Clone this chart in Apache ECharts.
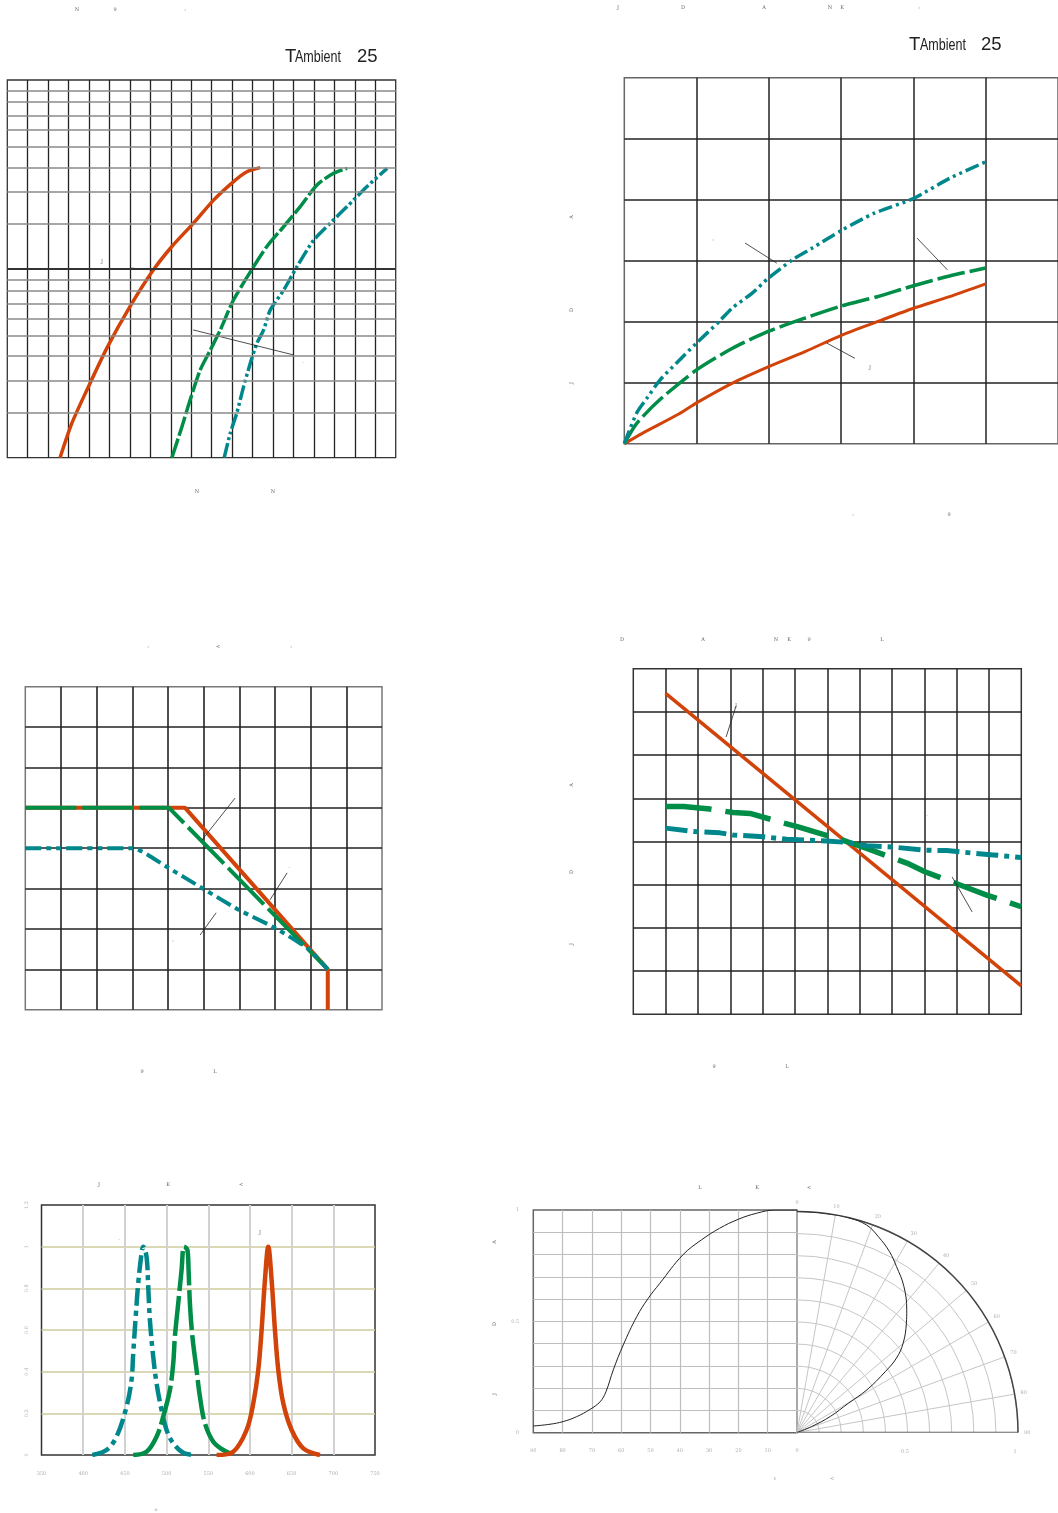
<!DOCTYPE html>
<html>
<head>
<meta charset="utf-8">
<title>LED characteristics</title>
<script src="https://cdn.jsdelivr.net/npm/echarts@6/dist/echarts.min.js"></script>
<style>
  html, body { margin: 0; padding: 0; background: #fff; }
  #main { width: 1058px; height: 1513px; }
</style>
</head>
<body>
<div id="main"></div>
<script>
// ---------- values ----------
// 1) current (log scale) vs voltage
var ivRed   = [[2.58,1],[3.15,1.36],[3.89,1.84],[4.87,2.69],[6.0,3.91],[7.15,5.45],[8.05,6.73],[9.11,8.31],[10.09,10.23],[11.07,12.09],[11.72,13.21],[12.37,13.71]];
var ivGreen = [[8.05,1],[8.54,1.32],[8.95,1.69],[9.44,2.21],[9.93,2.64],[10.42,3.17],[11.07,4.16],[12.05,5.61],[12.70,6.73],[13.52,8.06],[14.33,9.65],[15.15,11.73],[15.96,13.03],[16.62,13.62]];
var ivTeal  = [[10.61,1],[10.91,1.25],[11.23,1.5],[11.56,1.9],[11.89,2.35],[12.21,2.81],[12.54,3.17],[12.86,3.79],[13.52,4.54],[14.17,5.61],[14.99,7.13],[15.80,8.31],[16.62,9.65],[17.60,11.57],[18.58,13.62]];
var ivMinor = [1.5,2,2.5,3,3.5,4,4.5,5,8.25,11,13.75,16.5,19.25,22,24.75,27.5];
var ivMajor = [5.5];
var ivLeaders = [[[9.09,3.17],[13.99,2.53]], [[6.01,5.54],[7.09,5.45]]];

// 2) intensity vs current
var liRed   = [[0,0],[0.25,0.17],[0.76,0.49],[1,0.67],[1.49,0.99],[1.99,1.26],[2.5,1.51],[3.01,1.78],[3.5,2.0],[4,2.22],[4.5,2.41],[5,2.62]];
var liGreen = [[0,0],[0.17,0.33],[0.49,0.72],[1,1.21],[1.49,1.56],[1.99,1.84],[2.5,2.06],[3.01,2.26],[3.5,2.41],[4,2.59],[4.5,2.75],[5,2.88]];
var liTeal  = [[0,0],[0.17,0.5],[0.31,0.74],[0.49,1.04],[0.72,1.32],[1,1.65],[1.31,2.0],[1.49,2.22],[1.77,2.47],[1.99,2.71],[2.32,3.01],[2.59,3.2],[3.01,3.5],[3.46,3.78],[4,4.02],[4.5,4.35],[5,4.62]];
var liLeaders = [[[1.67,3.29],[2.11,2.96]], [[4.05,3.37],[4.47,2.85]], [[2.80,1.65],[3.19,1.40]]];

// 3) derating: max current vs ambient temperature
var drRed   = [[0,5],[4.48,5],[8.48,1],[8.48,0]];
var drGreen = [[0,5],[4.03,5],[8.48,1]];
var drTeal  = [[0,4],[3.01,4],[3.96,3.54],[4.98,3.0],[5.99,2.47],[7.01,2.02],[7.97,1.48],[8.48,1]];
var drLeaders = [[[5.88,5.24],[4.95,4.20]], [[7.34,3.39],[6.86,2.72]], [[5.35,2.40],[4.90,1.85]]];

// 4) relative intensity vs temperature
var tcRed   = [[1,7.43],[12,0.66]];
var tcGreen = [[1,4.81],[1.55,4.81],[2.37,4.75],[3.09,4.67],[3.61,4.65],[4.59,4.44],[5.10,4.34],[6.60,4.0],[7.22,3.84],[8.46,3.5],[9.02,3.3],[10.47,2.89],[10.93,2.76],[12,2.49]];
var tcTeal  = [[1,4.31],[1.86,4.23],[2.68,4.2],[3.09,4.15],[4.02,4.11],[4.74,4.05],[5.98,4.01],[6.60,3.98],[7.22,3.9],[8.04,3.87],[9.02,3.8],[9.69,3.79],[10.52,3.73],[11.13,3.69],[12,3.63]];
var tcLeaders = [[[3.18,7.14],[2.87,6.42]], [[9.86,3.18],[10.48,2.37]]];

// 5) spectrum: relative intensity vs wavelength (nm)
var spTeal  = [[411,0],[428,0.024],[440,0.088],[452,0.232],[458,0.36],[460,0.488],[463,0.664],[466,0.824],[470,0.968],[472,1.0],[476,0.952],[478,0.808],[480,0.648],[484,0.472],[488,0.344],[494,0.216],[500,0.12],[508,0.056],[520,0.011],[534,0]];
var spGreen = [[460,0],[476,0.016],[488,0.088],[496,0.184],[504,0.312],[508,0.44],[510,0.568],[514,0.728],[518,0.888],[521,1.0],[525,0.984],[526.4,0.888],[528,0.728],[531,0.568],[536,0.408],[540,0.28],[546,0.152],[556,0.064],[568,0.024],[582,0]];
var spRed   = [[560,0],[580,0.016],[596,0.12],[604,0.248],[610,0.408],[614,0.6],[618,0.84],[622,1.0],[626,0.84],[630,0.6],[634,0.408],[640,0.248],[650,0.12],[664,0.032],[684,0]];

// 6) radiation pattern: relative intensity vs angle (deg)
var radCart  = [[90,0.03],[84.3,0.038],[79.8,0.05],[75.2,0.072],[70.6,0.105],[67.2,0.139],[65.2,0.184],[62.7,0.282],[59.3,0.394],[54.7,0.521],[50.8,0.603],[46.8,0.671],[39.0,0.798],[32.7,0.865],[26.4,0.918],[20.1,0.958],[13.9,0.985],[7.5,1.0],[3.8,1.0],[0,1.0]];
var radPolar = [[1,0],[1,3.8],[1,8.6],[1,13.4],[0.99,18.6],[0.96,22.5],[0.92,27.0],[0.876,30.9],[0.819,36.2],[0.745,41.8],[0.70,45],[0.628,49.9],[0.562,53.2],[0.486,55.4],[0.371,58.6],[0.269,60.3],[0.167,64.3],[0.072,67.8],[0,70]];
var radBase  = [[0,90],[1,90]];

// ---------- styling ----------
var RED = '#d2430a', GREEN = '#008d47', TEAL = '#00878b';

var chart = echarts.init(document.getElementById('main'));

function curve(idx, data, color, width, dash, smooth) {
  return {
    type: 'line', xAxisIndex: idx, yAxisIndex: idx, data: data, symbol: 'none',
    smooth: smooth || false, z: 3, silent: true,
    lineStyle: { color: color, width: width, type: dash || 'solid', cap: 'butt', join: 'round' }
  };
}
function leaders(idx, segs) {
  return segs.map(function (s) {
    return { type: 'line', xAxisIndex: idx, yAxisIndex: idx, data: s, symbol: 'none', z: 4, silent: true,
      lineStyle: { color: '#222', width: 0.8 } };
  });
}
function valAxis(idx, min, max, interval, color, width, extra) {
  var a = {
    type: 'value', gridIndex: idx, min: min, max: max, interval: interval,
    axisLine: { show: false }, axisTick: { show: false }, axisLabel: { show: false },
    splitLine: { show: true, showMinLine: false, showMaxLine: false, lineStyle: { color: color, width: width } }
  };
  for (var k in extra) a[k] = extra[k];
  return a;
}
function tiny(t, x, y, rot, col) {
  return { type: 'text', x: x, y: y, rotation: rot || 0, silent: true,
    style: { text: t, fontSize: 5, fontFamily: 'DejaVu Serif', fill: col || '#666',
      textAlign: 'center', textVerticalAlign: 'middle' } };
}
function ambient(xT, xA, x25, y) {
  var f = 'Liberation Sans';
  return [
    { type: 'text', x: xT, y: y, silent: true, style: { text: 'T', fontSize: 18.5, fontFamily: f, fill: '#222', textVerticalAlign: 'middle' } },
    { type: 'text', x: xA, y: y + 0.8, scaleX: 0.76, silent: true, style: { text: 'Ambient', fontSize: 16.5, fontFamily: f, fill: '#222', textVerticalAlign: 'middle' } },
    { type: 'text', x: x25, y: y, silent: true, style: { text: '25', fontSize: 18.5, fontFamily: f, fill: '#222', textVerticalAlign: 'middle' } }
  ];
}

var tinyLab = { show: true, fontSize: 5, color: '#b0b0b0', fontFamily: 'DejaVu Serif' };
var up = Math.PI / 2;

var graphics = []
  .concat(ambient(285, 295, 357, 56.5))
  .concat(ambient(909, 920, 981, 44.5))
  .concat([
    tiny('N', 77, 10), tiny('9', 115, 10), tiny(':', 185, 10), tiny('J', 102, 262), tiny('.', 303, 362),
    tiny('N', 197, 492), tiny('N', 273, 492),
    tiny('J', 618, 8), tiny('D', 683, 8), tiny('A', 764, 8), tiny('N', 830, 8), tiny('K', 842, 8), tiny(':', 919, 8),
    tiny(':', 713, 240), tiny('J', 870, 368), tiny(':', 853, 515), tiny('9', 949, 515),
    tiny('A', 572, 217, up), tiny('D', 572, 310, up), tiny('J', 572, 383, up),
    tiny(':', 148, 647), tiny('<', 218, 647), tiny(':', 291, 647), tiny(',', 173, 940), tiny('.', 289, 867),
    tiny('9', 142, 1072), tiny('L', 215, 1072),
    tiny('D', 622, 640), tiny('A', 703, 640), tiny('N', 776, 640), tiny('K', 789, 640), tiny('9', 809, 640), tiny('L', 882, 640),
    tiny('J', 736, 706), tiny('.', 927, 815), tiny('9', 714, 1067), tiny('L', 787, 1067),
    tiny('A', 572, 785, up), tiny('D', 572, 872, up), tiny('J', 572, 944, up),
    tiny('J', 99, 1185), tiny('K', 168, 1185), tiny('<', 241, 1185), tiny('.', 119, 1239), tiny('J', 260, 1233),
    tiny('o', 156, 1510, 0, '#999'),
    tiny('L', 700, 1188), tiny('K', 757, 1188), tiny('<', 809, 1188),
    tiny('A', 495, 1242, up), tiny('D', 495, 1324, up), tiny('J', 495, 1394, up),
    tiny('v', 775, 1479, 0, '#999'), tiny('<', 832, 1479, 0, '#999'),
    tiny('0.5', 905, 1452, 0, '#b0b0b0'), tiny('1', 1015, 1452, 0, '#b0b0b0')
  ]);

var series = [
  // chart 1 horizontal (log) rulings
  { type: 'line', xAxisIndex: 0, yAxisIndex: 0, data: [[0, 1]], symbol: 'none', z: 1, silent: true,
    lineStyle: { opacity: 0 },
    markLine: { silent: true, symbol: ['none', 'none'], label: { show: false }, animation: false,
      lineStyle: { color: '#8a8a8a', width: 1.5, type: 'solid' },
      data: ivMinor.map(function (v) { return { yAxis: v }; })
        .concat(ivMajor.map(function (v) { return { yAxis: v, lineStyle: { color: '#333', width: 2, type: 'solid' } }; })) } },
  curve(0, ivRed, RED, 3.5, 'solid', 0.25),
  curve(0, ivGreen, GREEN, 3.5, [20, 3], 0.25),
  curve(0, ivTeal, TEAL, 3.5, [15, 3, 3, 3, 3, 3], 0.25),

  curve(1, liRed, RED, 3, 'solid', 0.25),
  curve(1, liGreen, GREEN, 3.5, [28, 5], 0.25),
  curve(1, liTeal, TEAL, 3.5, [14, 4, 3, 4, 3, 4], 0.25),

  curve(2, drRed, RED, 4, 'solid'),
  curve(2, drGreen, GREEN, 4, [51, 6]),
  curve(2, drTeal, TEAL, 4, [16, 5, 5, 5, 5, 5], 0.2),

  curve(3, tcRed, RED, 3.5, 'solid'),
  curve(3, tcGreen, GREEN, 5.5, [46, 14]),
  curve(3, tcTeal, TEAL, 5, [22, 6, 5, 6]),

  curve(4, spTeal, TEAL, 4.5, [18, 5, 5, 5], 0.35),
  curve(4, spGreen, GREEN, 4.5, [40, 5], 0.35),
  curve(4, spRed, RED, 4.5, 'solid', 0.35),

  { type: 'line', xAxisIndex: 5, yAxisIndex: 5, data: radCart, symbol: 'none', smooth: 0.4, z: 3, silent: true,
    lineStyle: { color: '#222', width: 1 } },
  { type: 'line', coordinateSystem: 'polar', polarIndex: 0, data: radPolar, symbol: 'none', smooth: 0.4, z: 3, silent: true,
    lineStyle: { color: '#222', width: 1 } },
  { type: 'line', coordinateSystem: 'polar', polarIndex: 0, data: radBase, symbol: 'none', z: 4, silent: true,
    lineStyle: { color: '#555', width: 1.5 } }
]
  .concat(leaders(0, ivLeaders))
  .concat(leaders(1, liLeaders))
  .concat(leaders(2, drLeaders))
  .concat(leaders(3, tcLeaders));

chart.setOption({
  animation: false,
  backgroundColor: '#fff',
  grid: [
    { left: 7.3, top: 80, width: 388.4, height: 377.7, show: true, borderColor: '#333', borderWidth: 1.3 },
    { left: 624.3, top: 77.7, width: 438, height: 366, show: true, borderColor: '#666', borderWidth: 1.5 },
    { left: 25.3, top: 686.7, width: 356.7, height: 323, show: true, borderColor: '#777', borderWidth: 1.5 },
    { left: 633.3, top: 668.7, width: 388, height: 345.6, show: true, borderColor: '#333', borderWidth: 1.5 },
    { left: 41.5, top: 1205, width: 333.5, height: 250, show: true, borderColor: '#333', borderWidth: 1.5 },
    { left: 533.3, top: 1210, width: 263.7, height: 222.7, show: true, borderColor: '#666', borderWidth: 1.5 }
  ],
  xAxis: [
    valAxis(0, 0, 19, 1, '#222', 1.3),
    valAxis(1, 0, 6, 1, '#222', 1.5),
    valAxis(2, 0, 10, 1, '#222', 1.6),
    valAxis(3, 0, 12, 1, '#222', 1.5),
    valAxis(4, 350, 750, 50, '#d2d2d2', 2, { axisLabel: Object.assign({ margin: 16 }, tinyLab) }),
    valAxis(5, 0, 90, 10, '#bdbdbd', 1.2, { inverse: true, axisLabel: Object.assign({ margin: 16 }, tinyLab) })
  ],
  yAxis: [
    { type: 'log', gridIndex: 0, min: 1, max: 30.25, axisLine: { show: false }, axisTick: { show: false },
      axisLabel: { show: false }, splitLine: { show: false } },
    valAxis(1, 0, 6, 1, '#222', 1.5),
    valAxis(2, 0, 8, 1, '#222', 1.6),
    valAxis(3, 0, 8, 1, '#222', 1.5),
    valAxis(4, 0, 1.2, 0.2, '#cfcb9e', 1.5, { axisLabel: Object.assign({ margin: 12, rotate: 90 }, tinyLab) }),
    valAxis(5, 0, 1, 0.1, '#bdbdbd', 1.2, { axisLabel: Object.assign({ margin: 14,
      formatter: function (v) { return (Math.abs(v) < 1e-6 || Math.abs(v - 0.5) < 1e-6 || Math.abs(v - 1) < 1e-6) ? String(v) : ''; } }, tinyLab) })
  ],
  polar: { center: [797, 1432.5], radius: 221 },
  angleAxis: {
    polarIndex: 0, type: 'value', min: 0, max: 90, interval: 10, startAngle: 90, endAngle: 0, clockwise: true,
    axisLine: { show: true, lineStyle: { color: '#444', width: 1.5 } },
    axisTick: { show: false },
    axisLabel: Object.assign({ margin: 6 }, tinyLab),
    splitLine: { show: true, lineStyle: { color: '#c6c6c6', width: 1 } }
  },
  radiusAxis: {
    polarIndex: 0, type: 'value', min: 0, max: 1, interval: 0.1,
    axisLine: { show: false }, axisTick: { show: false }, axisLabel: { show: false },
    splitLine: { show: true, lineStyle: { color: '#c6c6c6', width: 1 } }
  },
  graphic: graphics,
  series: series
});
</script>
</body>
</html>
